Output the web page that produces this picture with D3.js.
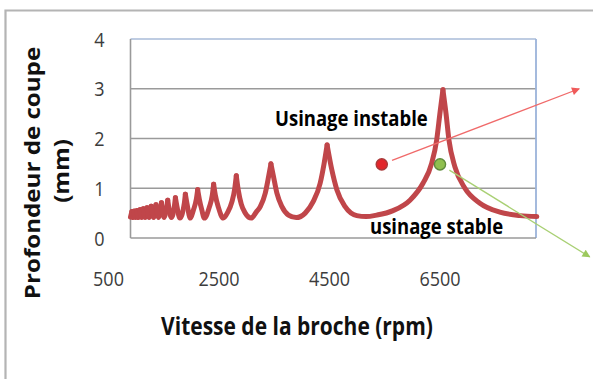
<!DOCTYPE html>
<html>
<head>
<meta charset="utf-8">
<script src="https://cdn.jsdelivr.net/npm/d3@7"></script>
<style>
  html, body { margin: 0; padding: 0; background: #fff; }
  svg { display: block; }
</style>
</head>
<body>
<svg id="chart" width="593" height="379"></svg>
<script>
// Stability lobe envelope: spindle speed (rpm) vs. depth of cut (mm)
const speedRpm = [
  898, 923, 945, 966, 990, 1015, 1042, 1069, 1100, 1131,
  1163, 1198, 1235, 1273, 1317, 1360, 1407, 1458, 1503, 1572,
  1638, 1693, 1711, 1738, 1792, 1873, 1891, 1919, 1982, 2036,
  2090, 2114, 2144, 2190, 2235, 2325, 2379, 2403, 2434, 2488,
  2578, 2659, 2732, 2786, 2813, 2849, 2903, 2976, 3084, 3174,
  3247, 3337, 3397, 3440, 3487, 3548, 3639, 3758, 3897, 4060,
  4204, 4331, 4403, 4457, 4542, 4633, 4783, 4994, 5162, 5355,
  5650, 5957, 6192, 6349, 6440, 6499, 6553, 6608, 6662, 6770,
  6951, 7222, 7583, 7945, 8252
];
const depthMm = [
  0.42, 0.53, 0.41, 0.54, 0.41, 0.55, 0.41, 0.57, 0.41, 0.59,
  0.41, 0.61, 0.41, 0.64, 0.41, 0.67, 0.41, 0.71, 0.41, 0.76,
  0.41, 0.64, 0.81, 0.64, 0.40, 0.70, 0.88, 0.70, 0.40, 0.56,
  0.78, 0.97, 0.78, 0.56, 0.40, 0.62, 0.86, 1.08, 0.86, 0.62,
  0.40, 0.52, 0.72, 1.00, 1.25, 0.96, 0.68, 0.50, 0.40, 0.52,
  0.63, 0.90, 1.23, 1.49, 1.23, 0.90, 0.63, 0.46, 0.41, 0.50,
  0.73, 1.10, 1.50, 1.87, 1.37, 0.97, 0.63, 0.45, 0.43, 0.46,
  0.55, 0.76, 1.10, 1.50, 1.97, 2.51, 2.98, 2.51, 1.97, 1.43,
  1.00, 0.70, 0.52, 0.45, 0.43
];

// Axis ticks
const xTicks = [500, 2500, 4500, 6500];
const yTicks = [0, 1, 2, 3, 4];

// Two cutting conditions with arrows pointing out of the plot
const conditionNames = ["instable", "stable"];
const conditionRpm = [5446, 6500];
const conditionDepth = [1.48, 1.48];
const arrowTipRpm = [9020, 9210];
const arrowTipDepth = [3.0, -0.38];

// Text
const xTitle = "Vitesse de la broche (rpm)";
const yTitleLines = ["Profondeur de coupe", "(mm)"];
const labelUnstable = "Usinage instable";
const labelStable = "usinage stable";

const svg = d3.select("#chart");
const STRETCH = 1.15; // tall text rendering
const FONT = "'Open Sans', 'DejaVu Sans', sans-serif";

const plot = { left: 130.5, right: 536, top: 39, bottom: 238 };

const x = d3.scaleLinear().domain([500, 6500]).range([108.5, 440]);
const y = d3.scaleLinear().domain([0, 4]).range([plot.bottom, plot.top]);

// Outer frame
svg.append("path")
  .attr("d", `M5.5,379 V10.5 H593`)
  .attr("fill", "none")
  .attr("stroke", "#b4b4b4")
  .attr("stroke-width", 2.2);

// Gridlines
svg.append("g").selectAll("line")
  .data(yTicks.filter(d => d > 0 && d < 4))
  .join("line")
  .attr("x1", plot.left).attr("x2", plot.right)
  .attr("y1", d => y(d)).attr("y2", d => y(d))
  .attr("stroke", "#9a9a9a")
  .attr("stroke-width", 1.5);

// Plot border: grey left/bottom, blue top/right
svg.append("line")
  .attr("x1", plot.left).attr("x2", plot.right)
  .attr("y1", y(4)).attr("y2", y(4))
  .attr("stroke", "#a9bbd8").attr("stroke-width", 1.6);
svg.append("line")
  .attr("x1", plot.right).attr("x2", plot.right)
  .attr("y1", y(4)).attr("y2", y(0))
  .attr("stroke", "#9bb3da").attr("stroke-width", 1.8);
svg.append("line")
  .attr("x1", plot.left).attr("x2", plot.right)
  .attr("y1", y(0)).attr("y2", y(0))
  .attr("stroke", "#9a9a9a").attr("stroke-width", 1.6);
svg.append("line")
  .attr("x1", plot.left).attr("x2", plot.left)
  .attr("y1", y(4)).attr("y2", y(0))
  .attr("stroke", "#9a9a9a").attr("stroke-width", 1.6);

// Helper: text stretched vertically
function tallText(sel, tx, ty, str, opts) {
  return sel.append("text")
    .attr("transform", `translate(${tx},${ty}) scale(1,${STRETCH})` + (opts.rotate ? ` rotate(${opts.rotate})` : ""))
    .attr("font-family", FONT)
    .attr("font-size", opts.size)
    .attr("font-weight", opts.weight || "normal")
    .attr("fill", opts.fill || "#000")
    .attr("text-anchor", opts.anchor || "middle")
    .text(str);
}

// Y tick labels
yTicks.forEach(v => {
  tallText(svg, 99.5, y(v) + 7.5, String(v), { size: 18, fill: "#3c3c3c" });
});

// X tick labels
xTicks.forEach(v => {
  tallText(svg, x(v), 286, String(v), { size: 18, fill: "#3c3c3c" });
});

// Axis titles
tallText(svg, 297, 335, xTitle, { size: 21, weight: "bold", fill: "#111" });
tallText(svg, 40, 173, yTitleLines[0], { size: 21, weight: "bold", fill: "#111", rotate: -90 });
tallText(svg, 68.5, 171, yTitleLines[1], { size: 21, weight: "bold", fill: "#111", rotate: -90 });

// Lobe envelope: each lobe runs from one cusp to the next, smooth at its
// bottom and sharp where neighbouring lobes intersect.
const pts = speedRpm.map((s, i) => [s, depthMm[i]]);
const cuspIdx = [0];
for (let i = 1; i < pts.length - 1; i++) {
  if (pts[i][1] > pts[i - 1][1] && pts[i][1] > pts[i + 1][1]) cuspIdx.push(i);
}
cuspIdx.push(pts.length - 1);
const lobes = [];
for (let k = 0; k < cuspIdx.length - 1; k++) {
  lobes.push(pts.slice(cuspIdx[k], cuspIdx[k + 1] + 1));
}
const lobeLine = d3.line()
  .x(d => x(d[0]))
  .y(d => y(d[1]))
  .curve(d3.curveMonotoneX);
svg.append("g").selectAll("path")
  .data(lobes)
  .join("path")
  .attr("d", lobeLine)
  .attr("fill", "none")
  .attr("stroke", "#c0464a")
  .attr("stroke-width", 5)
  .attr("stroke-linejoin", "round")
  .attr("stroke-linecap", "round");

// Arrow markers
const defs = svg.append("defs");
[["arrow-red", "#ef5a5a"], ["arrow-green", "#9cc95e"]].forEach(([id, c]) => {
  defs.append("marker")
    .attr("id", id)
    .attr("viewBox", "0 0 10 10")
    .attr("refX", 9).attr("refY", 5)
    .attr("markerWidth", 10).attr("markerHeight", 8)
    .attr("markerUnits", "userSpaceOnUse")
    .attr("orient", "auto")
    .append("path")
    .attr("d", "M0,0 L10,5 L0,10 Z")
    .attr("fill", c);
});

const arrowColors = ["#f06a6a", "#a9d074"];
const arrowIds = ["arrow-red", "arrow-green"];
conditionNames.forEach((n, i) => {
  const x0 = x(conditionRpm[i]), y0 = y(conditionDepth[i]);
  const x1 = x(arrowTipRpm[i]), y1 = y(arrowTipDepth[i]);
  const len = Math.hypot(x1 - x0, y1 - y0);
  const off = 11;
  svg.append("line")
    .attr("x1", x0 + (x1 - x0) / len * off)
    .attr("y1", y0 + (y1 - y0) / len * off)
    .attr("x2", x1).attr("y2", y1)
    .attr("stroke", arrowColors[i])
    .attr("stroke-width", 1.3)
    .attr("marker-end", `url(#${arrowIds[i]})`);
});

// Label box for the stable region
svg.append("rect")
  .attr("x", 366).attr("y", 219)
  .attr("width", 161).attr("height", 17.5)
  .attr("fill", "#fff");

// Condition dots
const dotFill = ["#e2262b", "#8fbf4f"];
const dotStroke = ["#a83a3a", "#5e8a3c"];
conditionNames.forEach((n, i) => {
  svg.append("circle")
    .attr("cx", x(conditionRpm[i]))
    .attr("cy", y(conditionDepth[i]))
    .attr("r", 5.6)
    .attr("fill", dotFill[i])
    .attr("stroke", dotStroke[i])
    .attr("stroke-width", 1.4);
});

// Region labels
tallText(svg, 275, 126, labelUnstable, { size: 18.5, weight: "bold", anchor: "start" });
tallText(svg, 370, 233.5, labelStable, { size: 18.5, weight: "bold", anchor: "start" });
</script>
</body>
</html>
